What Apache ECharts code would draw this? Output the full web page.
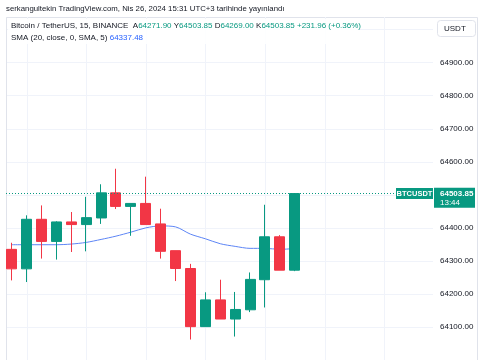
<!DOCTYPE html>
<html><head><meta charset="utf-8">
<script src="https://cdn.jsdelivr.net/npm/echarts@6/dist/echarts.min.js"></script>
<style>html,body{margin:0;padding:0;background:#fff}#c{width:485px;height:360px}</style>
</head><body><div id="c"></div>
<script>
const times = ['10:45','11:00','11:15','11:30','11:45','12:00','12:15','12:30','12:45','13:00','13:15','13:30','13:45','14:00','14:15','14:30','14:45','15:00','15:15','15:30'];
const futureTimes = ['15:45','16:00','16:15','16:30','16:45','17:00','17:15','17:30','17:45'];
const opens  = [64335,64276,64426,64359,64418,64410,64430,64506,64465,64474,64412,64331,64277,64101,64182,64124,64152,64243,64373,64271.9];
const closes = [64276,64426,64359,64418,64410,64431,64506,64465,64474,64410,64329,64277,64101,64182,64124,64153,64244,64373,64271.9,64503.85];
const lows   = [64241,64236,64307,64304,64327,64329,64412,64457,64376,64410,64307,64239,64062,64101,64124,64071,64145,64159,64271.9,64269];
const highs  = [64355,64438,64468,64420,64448,64494,64532,64579,64474,64555,64458,64331,64291,64205,64243,64206,64265,64470,64378,64503.85];
const sma    = [64349,64349,64349,64349,64351,64356,64365,64375,64387,64400,64406,64403,64381,64367,64352,64344,64338,64338,64335,64337.48];
const priceTicks = [64100,64200,64300,64400,64500,64600,64700,64800,64900];

const GREEN = '#089981', RED = '#f23645';
const chart = echarts.init(document.getElementById('c'), null, {renderer:'canvas'});
const candleData = times.map((t,i)=>[i, opens[i], closes[i], lows[i], highs[i]]);
const smaData = times.map((t,i)=>[i, sma[i]]);
const last = closes[closes.length-1];
const allTimes = times.concat(futureTimes);
const hourIdx = allTimes.map((t,i)=>t.endsWith(':00') ? [i] : null).filter(Boolean);

chart.setOption({
  animation:false,
  grid:{left:6,right:52,top:17,bottom:-7.45},
  xAxis:{type:'value',min:-0.383,max:28.28,axisLine:{show:false},axisTick:{show:false},axisLabel:{show:false},splitLine:{show:false}},
  yAxis:{type:'value',position:'right',min:64000,max:65038.4,interval:100,
    axisLine:{show:false},axisTick:{show:false},
    splitLine:{show:true,lineStyle:{color:'#f0f3fa',width:1}},
    axisLabel:{margin:7,color:'#131722',fontSize:8,fontFamily:'Liberation Sans',
      formatter:v=> priceTicks.includes(Math.round(v)) && Math.abs(v-Math.round(v))<1e-6 ? v.toFixed(2) : ''}},
  series:[
    {type:'custom',data:hourIdx,z:1,silent:true,clip:false,
      renderItem:(params,api)=>{
        const x = Math.round(api.coord([api.value(0),64500])[0])+0.5;
        const cs = params.coordSys;
        return {type:'line',shape:{x1:x,y1:17,x2:x,y2:360},style:{stroke:'#f0f3fa',lineWidth:1}};
      }},
    {type:'line',data:smaData,showSymbol:false,symbol:'none',z:3,lineStyle:{color:'#5d85f5',width:1},smooth:0.3,silent:true},
    {type:'candlestick',data:candleData,barWidth:10.5,z:4,
      encode:{x:0,y:[1,2,3,4]},
      itemStyle:{color:GREEN,color0:RED,borderColor:GREEN,borderColor0:RED,borderWidth:1},
      markLine:{silent:true,symbol:'none',label:{show:false},
        data:[{yAxis:last, lineStyle:{color:GREEN,type:[1,2],width:1}}]}}
  ]
});

const py = chart.convertToPixel({yAxisIndex:0}, last);
chart.setOption({graphic:[
  {type:'rect',silent:true,shape:{x:6.5,y:17.5,width:471,height:350},style:{fill:'none',stroke:'#e0e3eb',lineWidth:1}},
  {type:'text',left:6,top:5,style:{text:'serkangultekin TradingView.com, Nis 26, 2024 15:31 UTC+3 tarihinde yayınlandı',fill:'#131722',font:'7.8px "Liberation Sans"'}},
  {type:'rect',shape:{x:8,y:19,width:350,height:25},style:{fill:'rgba(255,255,255,0.85)'},z:5,silent:true},
  {type:'text',left:11,top:22,z:6,style:{
    text:'Bitcoin / TetherUS, 15, BINANCE  A{g|64271.90} Y{g|64503.85} D{g|64269.00} K{g|64503.85} {g|+231.96 (+0.36%)}',
    fill:'#131722',font:'8px "Liberation Sans"',rich:{g:{fill:GREEN,font:'8px "Liberation Sans"'}}}},
  {type:'text',left:11,top:34,z:6,style:{text:'SMA (20, close, 0, SMA, 5) {b|64337.48}',fill:'#131722',font:'8px "Liberation Sans"',rich:{b:{fill:'#2962ff',font:'8px "Liberation Sans"'}}}},
  {type:'rect',shape:{x:437.5,y:20.5,width:38,height:16,r:3},style:{fill:'#fff',stroke:'#e0e3eb',lineWidth:1},z:10},
  {type:'text',x:444,y:24.5,z:11,style:{text:'USDT',fill:'#131722',font:'8px "Liberation Sans"'}},
  {type:'rect',shape:{x:396,y:py-5.5,width:37,height:11},style:{fill:GREEN},z:10},
  {type:'text',x:414.5,y:py,z:11,style:{text:'BTCUSDT',fill:'#fff',font:'bold 7.5px "Liberation Sans"',align:'center',verticalAlign:'middle'}},
  {type:'rect',shape:{x:434,y:py-5.7,width:41,height:20},style:{fill:GREEN},z:10},
  {type:'text',x:440,y:py,z:11,style:{text:'64503.85',fill:'#fff',font:'bold 8px "Liberation Sans"',verticalAlign:'middle'}},
  {type:'text',x:440,y:py+9,z:11,style:{text:'13:44',fill:'#fff',font:'8px "Liberation Sans"',verticalAlign:'middle'}}
]});
</script></body></html>
